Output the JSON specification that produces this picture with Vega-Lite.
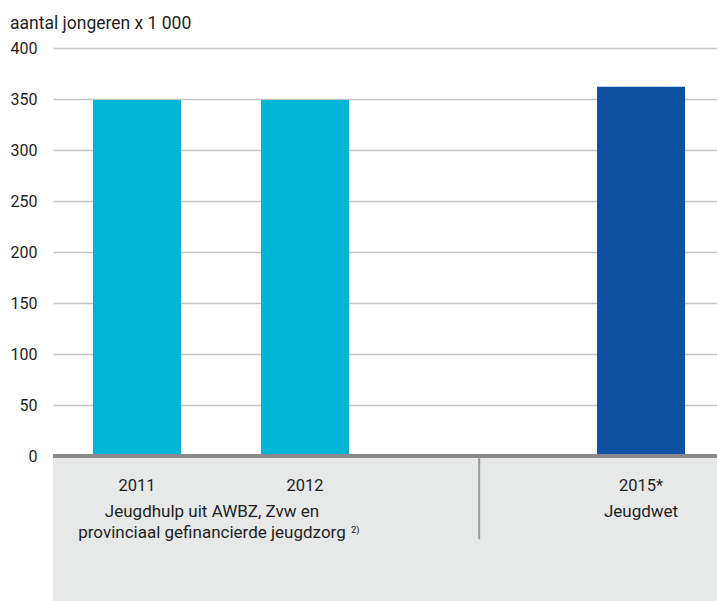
{
  "$schema": "https://vega.github.io/schema/vega-lite/v6.json",
  "width": 664,
  "height": 553,
  "autosize": "none",
  "padding": {"left": 53, "top": 48, "right": 0, "bottom": 0},
  "background": "white",
  "config": {
    "view": {"stroke": null},
    "font": "Roboto",
    "text": {"font": "Roboto", "color": "#1e1e1e"}
  },
  "title": {
    "text": "aantal jongeren x 1 000",
    "anchor": "start",
    "frame": "bounds",
    "fontSize": 17.5,
    "fontWeight": "normal",
    "color": "#1e1e1e",
    "offset": 8
  },
  "datasets": {
    "jeugd": [
      {"jaar": "2011", "aantal": 349, "regeling": "Jeugdhulp uit AWBZ, Zvw en provinciaal gefinancierde jeugdzorg"},
      {"jaar": "2012", "aantal": 349, "regeling": "Jeugdhulp uit AWBZ, Zvw en provinciaal gefinancierde jeugdzorg"},
      {"jaar": "2015*", "aantal": 362, "regeling": "Jeugdwet"}
    ]
  },
  "data": {"name": "jeugd"},
  "layer": [
    {
      "data": {"values": [{}]},
      "mark": {"type": "rect", "color": "#e7e8e8"},
      "encoding": {
        "y": {"datum": -2},
        "y2": {"datum": -142}
      }
    },
    {
      "mark": {"type": "bar"},
      "encoding": {
        "x": {
          "field": "jaar",
          "type": "nominal",
          "axis": null,
          "scale": {
            "domain": ["2011", "2012", "2014", "2015*"],
            "range": [0, 672],
            "paddingInner": 0.4762,
            "paddingOuter": 0.238
          }
        },
        "y": {
          "field": "aantal",
          "type": "quantitative",
          "scale": {"domain": [-142, 400], "nice": false, "zero": false},
          "axis": {
            "title": null,
            "values": [0, 50, 100, 150, 200, 250, 300, 350, 400],
            "grid": true,
            "gridColor": "#c4c4c4",
            "gridWidth": 1.5,
            "domain": false,
            "ticks": false,
            "labelPadding": 16,
            "labelFontSize": 16,
            "labelFont": "Roboto",
            "labelColor": "#1e1e1e"
          }
        },
        "color": {
          "field": "regeling",
          "type": "nominal",
          "legend": null,
          "scale": {
            "domain": ["Jeugdhulp uit AWBZ, Zvw en provinciaal gefinancierde jeugdzorg", "Jeugdwet"],
            "range": ["#00b4d6", "#0f52a2"]
          }
        }
      }
    },
    {
      "data": {"values": [{}]},
      "mark": {"type": "rule", "color": "#8a8a8a", "strokeWidth": 4},
      "encoding": {"y": {"datum": 0}}
    },
    {
      "data": {"values": [{}]},
      "mark": {"type": "rule", "color": "#9a9a9a", "strokeWidth": 2},
      "encoding": {
        "x": {"datum": "2014", "bandPosition": 0.57},
        "y": {"datum": -2},
        "y2": {"datum": -81.5}
      }
    },
    {
      "mark": {"type": "text", "fontSize": 16.5, "baseline": "alphabetic", "align": "center"},
      "encoding": {
        "x": {"field": "jaar", "type": "nominal"},
        "y": {"datum": -34.3},
        "text": {"field": "jaar"}
      }
    },
    {
      "data": {"values": [{}]},
      "mark": {"type": "text", "fontSize": 17, "baseline": "alphabetic", "align": "center", "dx": 75, "lineHeight": 21},
      "encoding": {
        "x": {"datum": "2011"},
        "y": {"datum": -59.8},
        "text": {"value": ["Jeugdhulp uit AWBZ, Zvw en", "provinciaal gefinancierde jeugdzorg"]}
      }
    },
    {
      "data": {"values": [{}]},
      "mark": {"type": "text", "fontSize": 9.5, "baseline": "alphabetic", "align": "left", "dx": 214},
      "encoding": {
        "x": {"datum": "2011"},
        "y": {"datum": -75.5},
        "text": {"value": "2)"}
      }
    },
    {
      "data": {"values": [{}]},
      "mark": {"type": "text", "fontSize": 17, "baseline": "alphabetic", "align": "center"},
      "encoding": {
        "x": {"datum": "2015*"},
        "y": {"datum": -59.8},
        "text": {"value": "Jeugdwet"}
      }
    }
  ]
}
